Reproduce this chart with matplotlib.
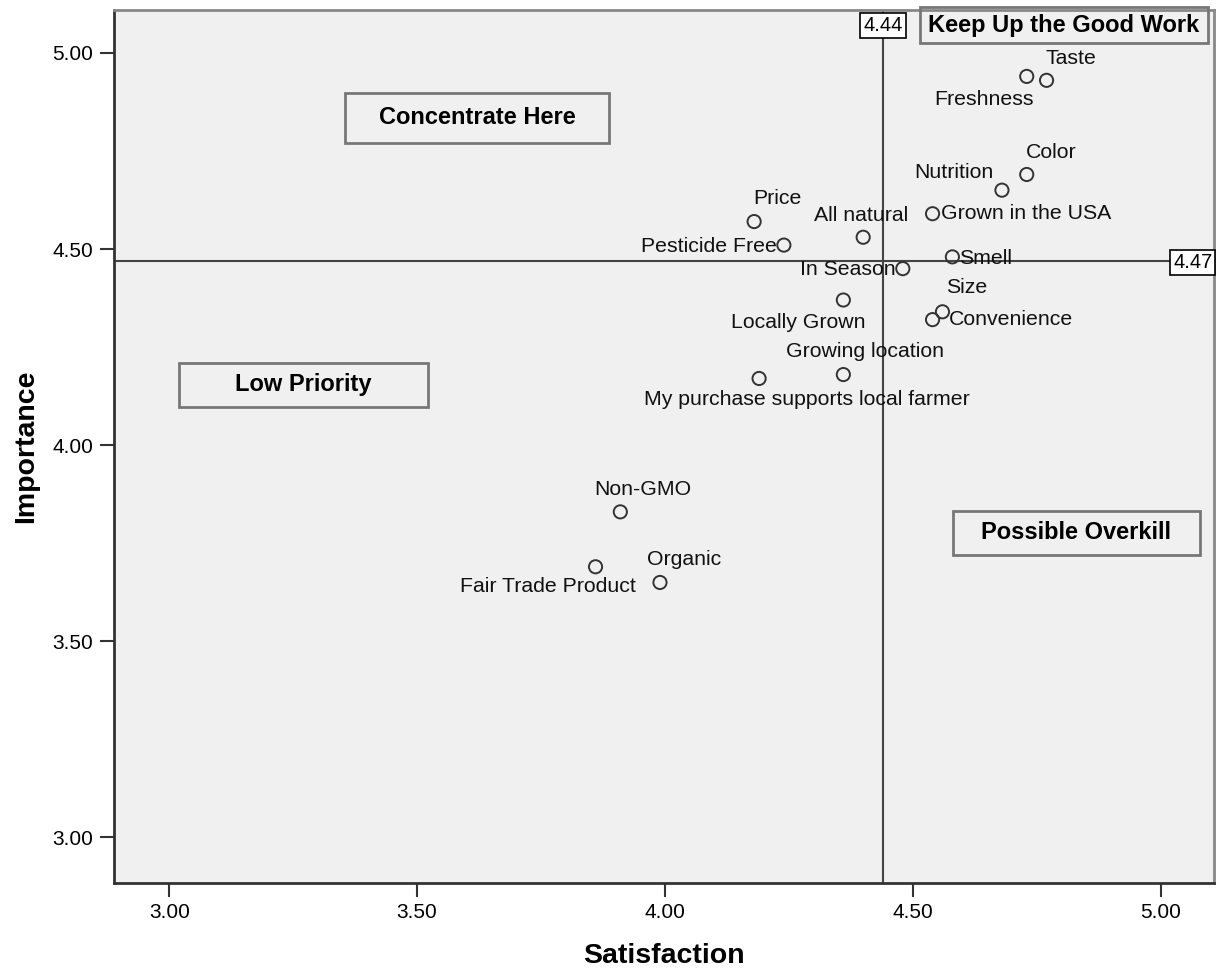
import matplotlib.pyplot as plt
from matplotlib.patches import Rectangle

plt.rcParams['font.family'] = ['Liberation Sans', 'DejaVu Sans']

# attributes: satisfaction (x) vs importance (y)
names = ['Taste', 'Freshness', 'Color', 'Nutrition', 'Grown in the USA', 'Price',
         'Pesticide Free', 'All natural', 'In Season', 'Smell', 'Size', 'Convenience',
         'Locally Grown', 'Growing location', 'My purchase supports local farmer',
         'Non-GMO', 'Organic', 'Fair Trade Product']
satisfaction = [4.77, 4.73, 4.73, 4.68, 4.54, 4.18,
                4.24, 4.40, 4.48, 4.58, 4.56, 4.54,
                4.36, 4.36, 4.19,
                3.91, 3.99, 3.86]
importance = [4.93, 4.94, 4.69, 4.65, 4.59, 4.57,
              4.51, 4.53, 4.45, 4.48, 4.34, 4.32,
              4.37, 4.18, 4.17,
              3.83, 3.65, 3.69]
mean_sat = 4.44
mean_imp = 4.47

# label offsets in pixels (dx, dy, ha)
offsets = {
    'Taste': (24, 22, 'center'), 'Freshness': (-43, -23, 'center'),
    'Color': (24, 22, 'center'), 'Nutrition': (-48, 18, 'center'),
    'Grown in the USA': (8, 0, 'left'), 'Price': (23, 23, 'center'),
    'Pesticide Free': (-7, -1, 'right'), 'All natural': (-2, 22, 'center'),
    'In Season': (-7, -1, 'right'), 'Smell': (7, -2, 'left'),
    'Size': (24, 24, 'center'), 'Convenience': (16, 0, 'left'),
    'Locally Grown': (-45, -22, 'center'), 'Growing location': (22, 23, 'center'),
    'My purchase supports local farmer': (48, -21, 'center'),
    'Non-GMO': (22, 22, 'center'), 'Organic': (24, 23, 'center'),
    'Fair Trade Product': (-48, -20, 'center'),
}

fig = plt.figure(figsize=(12.16, 9.72), dpi=100)
ax = fig.add_axes([0.094, 0.092, 0.904, 0.898])
ax.set_facecolor('#f0f0f0')
ax.set_xlim(2.889, 5.107)
ax.set_ylim(2.885, 5.11)

ax.axvline(mean_sat, color='#444444', lw=1.5, zorder=1)
ax.axhline(mean_imp, color='#444444', lw=1.5, zorder=1)

ax.scatter(satisfaction, importance, s=90, facecolors='none', edgecolors='#333333',
           linewidths=1.4, zorder=3)

for n, x, y in zip(names, satisfaction, importance):
    dx, dy, ha = offsets[n]
    ax.annotate(n, (x, y), xytext=(dx, dy), textcoords='offset pixels',
                ha=ha, va='center', fontsize=15.3, color='#111111', zorder=4)

# quadrant boxes: (text, x0, x1, y0, y1)
quads = [
    ('Concentrate Here', 3.355, 3.887, 4.771, 4.898),
    ('Keep Up the Good Work', 4.514, 5.095, 5.025, 5.117),
    ('Low Priority', 3.020, 3.522, 4.098, 4.210),
    ('Possible Overkill', 4.581, 5.079, 3.721, 3.833),
]
for t, x0, x1, y0, y1 in quads:
    ax.add_patch(Rectangle((x0, y0), x1 - x0, y1 - y0, facecolor='none',
                           edgecolor='#777777', lw=2, zorder=5, clip_on=False))
    ax.text((x0 + x1) / 2, (y0 + y1) / 2, t, ha='center', va='center',
            fontsize=17, fontweight='bold', zorder=6)

box = dict(boxstyle='square,pad=0.15', facecolor='white', edgecolor='black', lw=1.2)
ax.text(mean_sat, 5.069, f'{mean_sat:.2f}', ha='center', va='center', fontsize=14.5,
        bbox=box, zorder=7)
ax.text(5.065, mean_imp - 0.004, f'{mean_imp:.2f}', ha='center', va='center', fontsize=14.5,
        bbox=box, zorder=7)

ticks = [3.0, 3.5, 4.0, 4.5, 5.0]
ax.set_xticks(ticks)
ax.set_yticks(ticks)
ax.set_xticklabels([f'{t:.2f}' for t in ticks])
ax.set_yticklabels([f'{t:.2f}' for t in ticks])
ax.tick_params(labelsize=15, length=10, width=1.5, color='#333333', pad=5)

for s in ['left', 'bottom']:
    ax.spines[s].set_color('#333333')
    ax.spines[s].set_linewidth(2)
for s in ['top', 'right']:
    ax.spines[s].set_color('#888888')
    ax.spines[s].set_linewidth(2)

ax.set_xlabel('Satisfaction', fontsize=20.5, fontweight='bold', labelpad=15)
ax.set_ylabel('Importance', fontsize=20.5, fontweight='bold', labelpad=10)

fig.savefig('out.png', dpi=100)
